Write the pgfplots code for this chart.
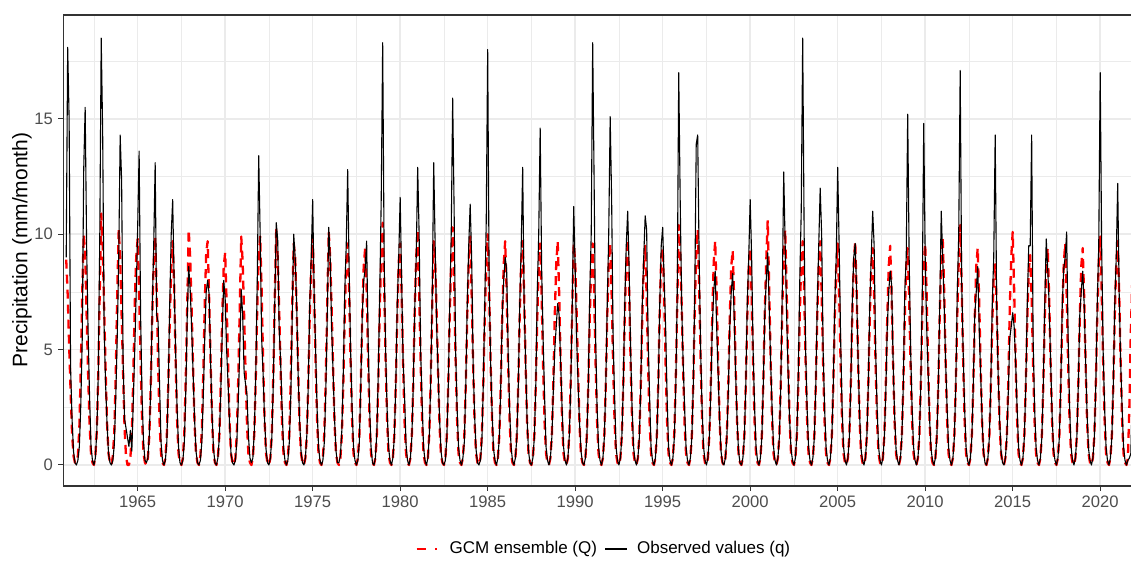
\documentclass[border=0pt]{standalone}
\usepackage{fontspec}
\setmainfont{Liberation Sans}
\usepackage{pgfplots}
\pgfplotsset{compat=1.18}
\definecolor{gridc}{HTML}{EBEBEB}
\definecolor{axc}{HTML}{333333}
\definecolor{tlc}{HTML}{4D4D4D}
\begin{document}
\begin{tikzpicture}
\begin{axis}[
 at={(0,0)}, anchor=south west, scale only axis,
 width=533.85pt, height=235.5pt,
 xmin=1960.75, xmax=2021.76, ymin=-0.91, ymax=19.5,
 xtick={1965,1970,...,2020}, ytick={0,5,10,15},
 minor xtick={1962.5,1967.5,...,2017.5}, minor ytick={2.5,7.5,12.5,17.5},
 grid=both, major grid style={gridc, line width=0.75pt}, minor grid style={gridc, line width=0.4pt},
 axis line style={draw=none},
 tick align=outside, tick pos=left, major tick length=2.5pt, minor tick length=0pt,
 tick style={axc, line width=0.5pt},
 /pgf/number format/assume math mode=true,
 /pgf/number format/1000 sep={},
 tick label style={font=\fontsize{8.3}{10}\selectfont, text=tlc},
 xticklabel style={anchor=north, inner sep=0pt, yshift=-2.5pt},
 yticklabel style={anchor=east, inner sep=0pt, xshift=-2.5pt},
]
\addplot[red, line width=1.15pt, dash pattern=on 4.5pt off 3pt, line join=round] table[header=false, row sep=\\, x expr={1960.91667+\coordindex/12}, y index=0] {
8.9\\
7.4\\5.2\\3.2\\1.4\\0.4\\0.1\\0.1\\0.4\\1.6\\4.2\\7.5\\10.0\\
9.2\\6.5\\4.0\\1.8\\0.5\\0.1\\0.0\\0.4\\1.5\\4.0\\7.5\\10.9\\
9.5\\6.8\\4.2\\1.8\\0.5\\0.1\\0.0\\0.4\\1.5\\4.0\\7.5\\10.2\\
9.0\\6.5\\4.0\\1.6\\0.4\\0.0\\0.0\\0.3\\1.4\\3.8\\7.0\\9.0\\
9.8\\7.5\\4.5\\2.0\\0.5\\0.1\\0.0\\0.3\\1.3\\3.5\\6.5\\8.8\\
9.9\\7.6\\4.4\\1.9\\0.5\\0.1\\0.0\\0.3\\1.3\\3.5\\6.2\\8.5\\
9.7\\7.8\\4.6\\2.0\\0.5\\0.1\\0.0\\0.3\\1.4\\3.8\\7.0\\10.2\\
9.0\\6.8\\4.2\\1.8\\0.5\\0.1\\0.0\\0.4\\1.5\\4.0\\7.0\\9.2\\
9.7\\7.2\\4.5\\2.0\\0.5\\0.1\\0.0\\0.3\\1.3\\3.6\\6.5\\8.6\\
9.2\\7.0\\4.4\\1.9\\0.5\\0.1\\0.0\\0.3\\1.4\\3.8\\6.8\\9.9\\
8.8\\6.5\\4.0\\1.7\\0.4\\0.1\\0.0\\0.3\\1.4\\3.8\\6.8\\9.0\\
9.9\\7.6\\4.5\\2.0\\0.5\\0.1\\0.0\\0.3\\1.4\\3.9\\7.2\\10.2\\
9.0\\6.8\\4.2\\1.8\\0.5\\0.1\\0.0\\0.3\\1.4\\3.8\\7.0\\9.6\\
9.0\\6.8\\4.2\\1.8\\0.5\\0.1\\0.0\\0.3\\1.3\\3.6\\6.5\\8.6\\
9.9\\7.5\\4.5\\2.0\\0.5\\0.1\\0.0\\0.3\\1.4\\3.8\\7.0\\10.1\\
9.0\\6.8\\4.2\\1.8\\0.5\\0.1\\0.0\\0.3\\1.3\\3.5\\6.5\\8.8\\
9.6\\7.5\\4.5\\2.0\\0.5\\0.1\\0.0\\0.3\\1.3\\3.5\\6.5\\8.6\\
9.4\\7.6\\4.6\\2.0\\0.5\\0.1\\0.0\\0.3\\1.3\\3.6\\6.8\\9.0\\
10.5\\7.8\\4.6\\2.0\\0.5\\0.1\\0.0\\0.3\\1.3\\3.5\\6.5\\8.8\\
9.6\\7.4\\4.4\\1.9\\0.5\\0.1\\0.0\\0.3\\1.3\\3.6\\6.8\\9.0\\
10.2\\7.6\\4.5\\2.0\\0.5\\0.1\\0.0\\0.3\\1.4\\3.8\\7.0\\9.7\\
8.8\\6.6\\4.0\\1.7\\0.4\\0.1\\0.0\\0.3\\1.3\\3.6\\6.6\\8.8\\
10.3\\7.8\\4.6\\2.0\\0.5\\0.1\\0.0\\0.3\\1.3\\3.5\\6.5\\8.8\\
9.9\\7.4\\4.4\\1.9\\0.5\\0.1\\0.0\\0.3\\1.3\\3.5\\6.4\\8.6\\
10.0\\7.6\\4.5\\2.0\\0.5\\0.1\\0.0\\0.3\\1.3\\3.5\\6.5\\8.7\\
9.7\\7.5\\4.5\\2.0\\0.5\\0.1\\0.0\\0.3\\1.3\\3.6\\6.6\\8.8\\
9.7\\7.4\\4.4\\1.9\\0.5\\0.1\\0.0\\0.3\\1.3\\3.5\\6.4\\8.6\\
9.6\\7.3\\4.3\\1.9\\0.5\\0.1\\0.0\\0.3\\1.3\\3.5\\6.5\\8.7\\
9.7\\7.5\\4.5\\2.0\\0.5\\0.1\\0.0\\0.3\\1.4\\3.8\\6.9\\9.6\\
8.8\\6.6\\4.0\\1.7\\0.4\\0.1\\0.0\\0.3\\1.3\\3.5\\6.4\\8.6\\
9.6\\7.4\\4.4\\1.9\\0.5\\0.1\\0.0\\0.3\\1.3\\3.5\\6.5\\8.7\\
9.6\\7.4\\4.4\\1.9\\0.5\\0.1\\0.0\\0.3\\1.3\\3.5\\6.5\\8.7\\
9.8\\7.5\\4.5\\2.0\\0.5\\0.1\\0.0\\0.3\\1.3\\3.5\\6.4\\8.6\\
9.5\\7.3\\4.3\\1.9\\0.5\\0.1\\0.0\\0.3\\1.3\\3.6\\6.8\\9.0\\
9.4\\7.4\\4.4\\1.9\\0.5\\0.1\\0.0\\0.3\\1.4\\3.8\\7.0\\10.4\\
9.2\\7.0\\4.2\\1.8\\0.5\\0.1\\0.0\\0.3\\1.3\\3.6\\6.8\\9.2\\
10.2\\7.8\\4.6\\2.0\\0.5\\0.1\\0.0\\0.3\\1.3\\3.5\\6.5\\8.8\\
9.7\\7.5\\4.5\\2.0\\0.5\\0.1\\0.0\\0.3\\1.3\\3.5\\6.4\\8.6\\
9.3\\7.2\\4.3\\1.9\\0.5\\0.1\\0.0\\0.3\\1.3\\3.5\\6.4\\8.6\\
9.4\\7.3\\4.4\\1.9\\0.5\\0.1\\0.0\\0.3\\1.3\\3.6\\6.6\\8.8\\
10.6\\7.8\\4.6\\2.0\\0.5\\0.1\\0.0\\0.3\\1.3\\3.6\\6.8\\9.0\\
10.2\\7.6\\4.5\\2.0\\0.5\\0.1\\0.0\\0.3\\1.3\\3.5\\6.5\\8.8\\
9.7\\7.5\\4.5\\2.0\\0.5\\0.1\\0.0\\0.3\\1.3\\3.5\\6.5\\8.7\\
9.7\\7.4\\4.4\\1.9\\0.5\\0.1\\0.0\\0.3\\1.3\\3.5\\6.4\\8.6\\
9.6\\7.4\\4.4\\1.9\\0.5\\0.1\\0.0\\0.3\\1.3\\3.5\\6.5\\8.7\\
9.7\\7.5\\4.5\\2.0\\0.5\\0.1\\0.0\\0.3\\1.3\\3.5\\6.4\\8.6\\
9.4\\7.3\\4.3\\1.9\\0.5\\0.1\\0.0\\0.3\\1.3\\3.5\\6.4\\8.6\\
9.5\\7.3\\4.4\\1.9\\0.5\\0.1\\0.0\\0.3\\1.3\\3.5\\6.4\\8.6\\
9.4\\7.2\\4.3\\1.9\\0.5\\0.1\\0.0\\0.3\\1.3\\3.5\\6.5\\8.7\\
9.6\\7.4\\4.4\\1.9\\0.5\\0.1\\0.0\\0.3\\1.3\\3.5\\6.6\\8.8\\
9.9\\7.6\\4.5\\2.0\\0.5\\0.1\\0.0\\0.3\\1.3\\3.5\\6.5\\8.8\\
10.4\\7.8\\4.6\\2.0\\0.5\\0.1\\0.0\\0.3\\1.3\\3.5\\6.4\\8.6\\
9.4\\7.2\\4.3\\1.9\\0.5\\0.1\\0.0\\0.3\\1.3\\3.4\\6.2\\8.2\\
8.7\\7.0\\4.2\\1.8\\0.5\\0.1\\0.0\\0.3\\1.3\\3.6\\6.8\\9.0\\
10.1\\7.6\\4.5\\2.0\\0.5\\0.1\\0.0\\0.3\\1.3\\3.5\\6.3\\8.4\\
9.1\\7.2\\4.3\\1.9\\0.5\\0.1\\0.0\\0.3\\1.3\\3.5\\6.4\\8.6\\
9.4\\7.3\\4.4\\1.9\\0.5\\0.1\\0.0\\0.3\\1.3\\3.5\\6.5\\8.7\\
9.6\\7.4\\4.4\\1.9\\0.5\\0.1\\0.0\\0.3\\1.3\\3.5\\6.4\\8.6\\
9.4\\7.3\\4.4\\1.9\\0.5\\0.1\\0.0\\0.3\\1.3\\3.5\\6.5\\8.8\\
9.9\\7.6\\4.5\\2.0\\0.5\\0.1\\0.0\\0.3\\1.3\\3.5\\6.5\\8.7\\
9.7\\7.5\\4.5\\2.0\\0.5\\0.1\\0.0\\0.3\\2.5\\5.8\\8.0\\9.5\\
};
\addplot[black, line width=0.55pt, line join=round] table[header=false, row sep=\\, x expr={1960.91667+\coordindex/12}, y index=0] {
9.0\\
18.1\\15.0\\4.2\\2.0\\0.6\\0.1\\0.0\\0.2\\0.8\\2.6\\5.5\\12.8\\
15.5\\9.5\\5.8\\3.0\\0.8\\0.2\\0.0\\0.3\\1.5\\4.0\\9.8\\18.5\\
14.4\\6.0\\3.5\\1.8\\0.5\\0.1\\0.0\\0.2\\0.9\\3.0\\5.6\\8.9\\
14.3\\12.3\\4.5\\2.0\\1.6\\1.2\\0.8\\1.5\\0.6\\2.8\\5.0\\7.5\\
10.3\\13.6\\6.5\\3.0\\1.0\\0.2\\0.1\\0.3\\1.3\\3.5\\6.8\\9.5\\
13.1\\6.5\\6.2\\3.5\\1.0\\0.2\\0.0\\0.2\\1.0\\3.5\\7.0\\10.0\\
11.5\\8.0\\5.0\\2.5\\0.8\\0.1\\0.0\\0.2\\1.0\\3.2\\6.5\\8.6\\
7.6\\6.0\\4.0\\2.0\\0.6\\0.1\\0.0\\0.2\\1.0\\3.0\\5.5\\7.5\\
8.0\\7.4\\4.5\\2.2\\0.7\\0.1\\0.0\\0.3\\1.2\\3.2\\5.8\\8.0\\
7.2\\5.0\\3.5\\1.8\\0.5\\0.1\\0.0\\0.2\\1.0\\2.8\\5.0\\7.6\\
6.5\\4.0\\3.5\\3.0\\1.2\\0.3\\0.1\\0.3\\1.5\\4.0\\8.0\\13.4\\
10.0\\5.5\\4.0\\2.0\\0.7\\0.1\\0.0\\0.3\\1.2\\3.5\\7.0\\10.5\\
9.8\\6.0\\4.5\\2.5\\0.8\\0.2\\0.0\\0.2\\1.0\\3.0\\6.5\\10.0\\
9.0\\7.0\\4.0\\2.0\\0.6\\0.1\\0.0\\0.3\\1.3\\3.5\\7.0\\9.0\\
11.5\\7.5\\5.0\\2.5\\0.8\\0.2\\0.0\\0.2\\1.0\\3.2\\6.5\\10.3\\
9.0\\6.0\\4.0\\2.0\\0.6\\0.1\\0.1\\0.4\\1.5\\4.0\\7.5\\9.5\\
12.8\\8.5\\5.0\\2.5\\0.8\\0.2\\0.0\\0.2\\1.0\\3.5\\6.5\\8.0\\
8.5\\9.7\\5.5\\2.5\\0.8\\0.1\\0.0\\0.3\\1.4\\4.0\\7.5\\11.5\\
18.3\\9.0\\5.0\\2.5\\0.8\\0.2\\0.0\\0.3\\1.2\\3.5\\7.0\\9.0\\
11.6\\8.0\\4.5\\3.0\\0.9\\0.2\\0.0\\0.3\\1.2\\3.5\\6.8\\9.0\\
12.9\\10.0\\5.0\\2.8\\0.8\\0.2\\0.0\\0.3\\1.3\\3.8\\7.5\\13.1\\
9.5\\6.0\\4.0\\2.0\\0.6\\0.1\\0.0\\0.2\\1.2\\3.5\\7.0\\10.0\\
15.9\\11.0\\5.0\\2.5\\0.8\\0.2\\0.0\\0.3\\1.0\\3.5\\7.0\\9.5\\
11.3\\9.0\\4.5\\2.2\\0.7\\0.1\\0.0\\0.2\\1.0\\3.5\\7.0\\10.5\\
18.0\\8.0\\4.5\\2.3\\0.7\\0.2\\0.0\\0.3\\1.2\\3.5\\6.5\\8.0\\
9.0\\8.5\\5.0\\2.5\\0.8\\0.2\\0.0\\0.3\\1.2\\3.5\\7.0\\9.5\\
12.9\\7.0\\4.5\\2.0\\0.6\\0.1\\0.0\\0.3\\1.2\\3.5\\7.5\\10.0\\
14.6\\8.5\\5.5\\3.0\\0.8\\0.2\\0.0\\0.3\\1.2\\3.2\\5.0\\6.0\\
7.0\\6.5\\4.5\\2.5\\0.8\\0.2\\0.0\\0.3\\1.3\\3.5\\7.0\\11.2\\
8.5\\5.5\\3.5\\1.8\\0.6\\0.1\\0.0\\0.3\\1.2\\3.5\\7.5\\10.0\\
18.3\\12.2\\5.5\\2.5\\0.8\\0.2\\0.0\\0.3\\1.2\\3.5\\7.0\\10.0\\
15.1\\11.5\\5.5\\3.0\\0.8\\0.2\\0.0\\0.3\\1.2\\3.5\\7.0\\9.5\\
11.0\\8.5\\5.0\\2.5\\0.8\\0.2\\0.0\\0.3\\1.2\\3.5\\7.0\\9.0\\
10.8\\10.2\\5.5\\3.0\\0.8\\0.2\\0.0\\0.3\\1.2\\3.5\\7.0\\9.5\\
10.3\\8.0\\6.0\\3.0\\0.8\\0.2\\0.0\\0.3\\1.2\\3.5\\7.5\\17.0\\
11.5\\7.0\\4.5\\2.5\\0.8\\0.2\\0.0\\0.3\\1.2\\3.5\\7.5\\13.9\\
14.3\\9.0\\5.0\\2.5\\0.8\\0.2\\0.0\\0.3\\1.2\\3.2\\6.0\\7.5\\
8.4\\6.0\\4.0\\2.0\\0.6\\0.1\\0.0\\0.3\\1.2\\3.2\\6.0\\7.5\\
8.3\\6.5\\4.0\\2.0\\0.6\\0.1\\0.0\\0.3\\1.2\\3.5\\7.0\\9.0\\
11.5\\9.0\\5.0\\2.5\\0.8\\0.2\\0.0\\0.3\\1.2\\3.5\\6.5\\8.0\\
9.2\\7.0\\4.5\\2.5\\0.8\\0.2\\0.0\\0.3\\1.2\\3.5\\7.5\\12.7\\
9.5\\6.5\\4.0\\2.0\\0.7\\0.2\\0.0\\0.3\\1.3\\4.0\\8.0\\11.0\\
18.5\\10.0\\5.0\\2.5\\0.8\\0.2\\0.0\\0.3\\1.2\\3.5\\7.0\\9.5\\
12.0\\10.0\\5.0\\2.5\\0.8\\0.2\\0.0\\0.3\\1.2\\3.5\\7.0\\9.0\\
12.9\\9.5\\5.5\\2.5\\0.8\\0.2\\0.0\\0.3\\1.2\\3.5\\7.0\\9.0\\
9.6\\7.5\\4.5\\2.2\\0.7\\0.2\\0.0\\0.3\\1.2\\3.5\\7.0\\9.0\\
11.0\\9.5\\5.0\\2.5\\0.8\\0.2\\0.0\\0.3\\1.2\\3.2\\6.0\\7.5\\
8.4\\7.8\\4.5\\2.2\\0.7\\0.2\\0.0\\0.3\\1.2\\3.5\\7.5\\9.0\\
15.2\\9.0\\5.0\\2.5\\0.8\\0.2\\0.0\\0.3\\1.2\\3.5\\7.5\\14.8\\
9.0\\6.0\\4.0\\2.0\\0.7\\0.2\\0.0\\0.3\\1.2\\3.5\\7.0\\11.0\\
9.0\\7.0\\4.5\\2.5\\0.8\\0.2\\0.0\\0.3\\1.2\\3.5\\7.5\\10.0\\
17.1\\8.0\\5.0\\2.5\\0.8\\0.2\\0.0\\0.3\\1.2\\3.5\\6.5\\7.5\\
8.6\\6.0\\4.0\\2.0\\0.6\\0.1\\0.0\\0.3\\1.2\\3.5\\7.0\\9.0\\
14.3\\7.0\\4.0\\2.0\\0.6\\0.1\\0.0\\0.3\\1.2\\3.2\\5.5\\6.0\\
6.6\\6.0\\4.5\\2.5\\0.8\\0.2\\0.0\\0.3\\1.2\\3.5\\7.0\\9.5\\
9.5\\14.3\\5.5\\2.5\\0.8\\0.2\\0.0\\0.3\\1.2\\3.5\\7.0\\9.8\\
8.5\\7.0\\4.5\\2.2\\0.7\\0.2\\0.0\\0.3\\1.2\\3.5\\7.0\\8.5\\
9.0\\10.1\\5.5\\2.5\\0.8\\0.2\\0.0\\0.3\\1.2\\3.5\\6.5\\7.5\\
8.4\\7.0\\4.5\\2.2\\0.7\\0.2\\0.0\\0.3\\1.2\\3.5\\7.0\\9.5\\
17.0\\9.5\\5.0\\2.5\\0.8\\0.2\\0.0\\0.3\\1.2\\3.5\\7.0\\9.0\\
12.2\\7.5\\4.5\\2.5\\0.8\\0.2\\0.0\\0.2\\0.3\\0.5\\3.0\\6.0\\
};
\end{axis}
\draw[axc, line width=0.55pt] (533.85pt,235.5pt) -- (0pt,235.5pt) -- (0pt,0pt) -- (533.85pt,0pt);
\node[rotate=90, font=\fontsize{10.5}{12}\selectfont, text=black] at (-20.65pt,118pt) {Precipitation (mm/month)};
\draw[red, line width=1.3pt, dash pattern=on 4.65pt off 4.5pt] (176.7pt,-31.5pt) -- (187pt,-31.5pt);
\node[anchor=west, inner sep=0pt, font=\fontsize{8.5}{10}\selectfont, text=black] at (193pt,-31.5pt) {GCM ensemble (Q)};
\draw[black, line width=0.55pt] (270.85pt,-31.5pt) -- (281.7pt,-31.5pt);
\node[anchor=west, inner sep=0pt, font=\fontsize{8.5}{10}\selectfont, text=black] at (286.7pt,-31.5pt) {Observed values (q)};
\pgfresetboundingbox
\path (-31.65pt,-37.5pt) rectangle (533.85pt,243pt);
\end{tikzpicture}
\end{document}
